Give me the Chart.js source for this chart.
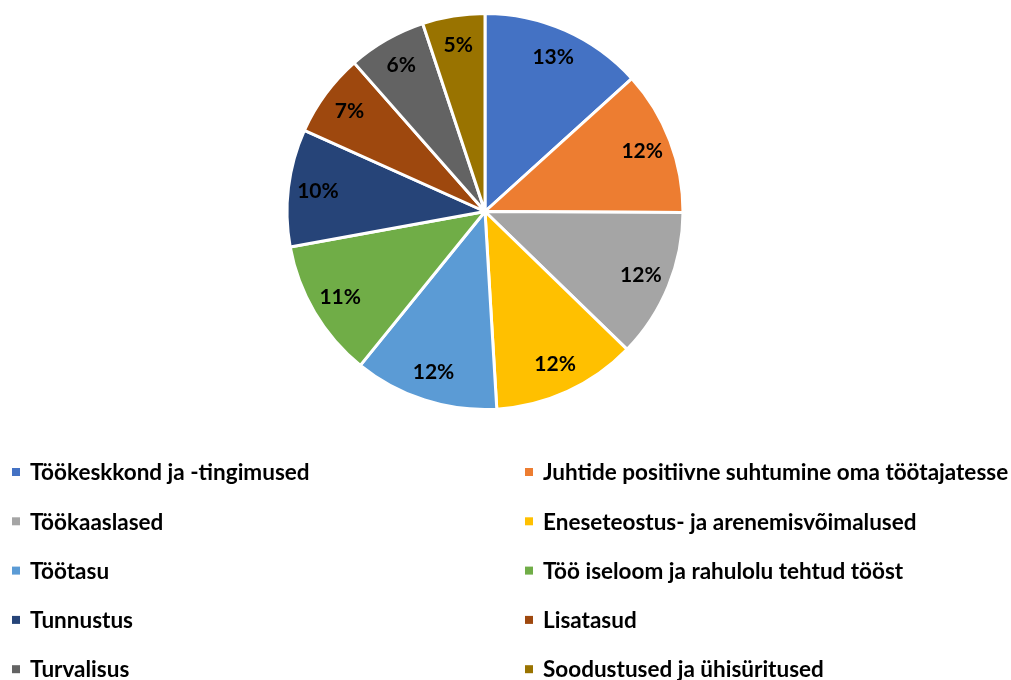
<!DOCTYPE html>
<html lang="et">
<head>
<meta charset="utf-8">
<title>Töötajate rahulolu</title>
<script src="https://cdn.jsdelivr.net/npm/chart.js@4/dist/chart.umd.min.js"></script>
<style>
    html, body { margin: 0; padding: 0; background: #ffffff; }
    .chart-box { position: relative; width: 1011px; height: 680px; }
</style>
</head>
<body>
<div class="chart-box">
    <canvas id="pieChart"></canvas>
</div>
<script>
// --- Andmed ---
const categories = [
    'Töökeskkond ja -tingimused',
    'Juhtide positiivne suhtumine oma töötajatesse',
    'Töökaaslased',
    'Eneseteostus- ja arenemisvõimalused',
    'Töötasu',
    'Töö iseloom ja rahulolu tehtud tööst',
    'Tunnustus',
    'Lisatasud',
    'Turvalisus',
    'Soodustused ja ühisüritused'
];
const shares = [13.3, 11.8, 12.2, 11.8, 11.8, 11.3, 9.6, 6.8, 6.4, 5.1];
const shareLabels = ['13%', '12%', '12%', '12%', '12%', '11%', '10%', '7%', '6%', '5%'];
const sliceColors = ['#4472C4', '#ED7D31', '#A5A5A5', '#FFC000', '#5B9BD5',
                     '#70AD47', '#264478', '#9E480E', '#636363', '#997300'];

const FONT = 'Lato';

// protsendid lõikude peale
const sliceLabels = {
    id: 'sliceLabels',
    afterDatasetsDraw(chart) {
        const ctx = chart.ctx;
        const arcs = chart.getDatasetMeta(0).data;
        ctx.save();
        ctx.font = 'bold 21px ' + FONT;
        ctx.fillStyle = '#000000';
        ctx.textAlign = 'center';
        ctx.textBaseline = 'middle';
        arcs.forEach((arc, i) => {
            const p = arc.getProps(['x', 'y', 'startAngle', 'endAngle', 'outerRadius'], true);
            const mid = (p.startAngle + p.endAngle) / 2;
            const r = p.outerRadius * 0.85;
            ctx.fillText(shareLabels[i], p.x + Math.cos(mid) * r, p.y + Math.sin(mid) * r);
        });
        ctx.restore();
    }
};

// legend kahes veerus all
const gridLegend = {
    id: 'gridLegend',
    afterDraw(chart) {
        const ctx = chart.ctx;
        const colX = [12, 525];
        const rowY0 = 472, rowStep = 49.3;
        ctx.save();
        ctx.font = 'bold 22.5px ' + FONT;
        ctx.textBaseline = 'middle';
        ctx.textAlign = 'left';
        chart.data.labels.forEach((label, i) => {
            const x = colX[i % 2];
            const y = rowY0 + Math.floor(i / 2) * rowStep;
            ctx.fillStyle = chart.data.datasets[0].backgroundColor[i];
            ctx.fillRect(x, y - 4, 8, 8);
            ctx.fillStyle = '#000000';
            ctx.fillText(label, x + 18, y + 1);
        });
        ctx.restore();
    }
};

document.addEventListener('DOMContentLoaded', () => {
    const ctx = document.getElementById('pieChart');

    new Chart(ctx, {
        type: 'pie',
        data: {
            labels: categories,
            datasets: [{
                data: shares,
                backgroundColor: sliceColors,
                borderColor: '#ffffff',
                borderWidth: 3
            }]
        },
        options: {
            responsive: true,
            maintainAspectRatio: false,
            animation: false,
            layout: {
                padding: { top: 12, bottom: 269, left: 0, right: 41 }
            },
            plugins: {
                legend: { display: false },
                tooltip: { enabled: false }
            }
        },
        plugins: [sliceLabels, gridLegend]
    });
});
</script>
</body>
</html>
